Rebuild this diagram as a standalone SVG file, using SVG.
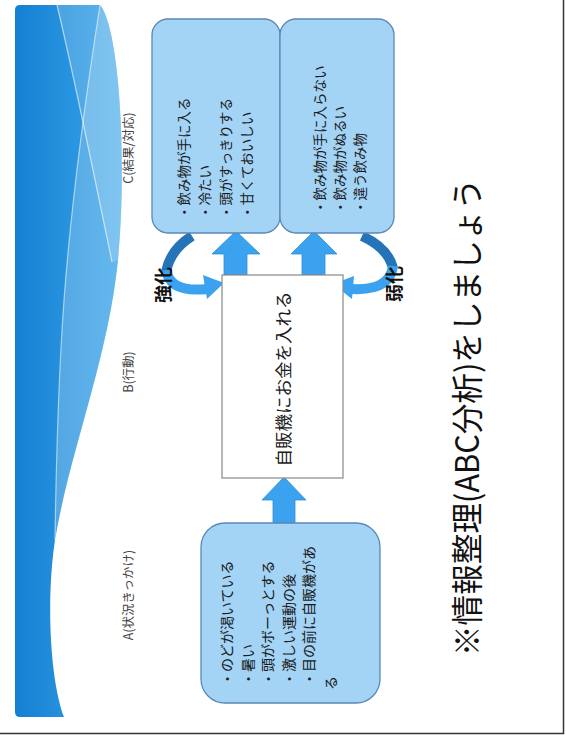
<svg xmlns="http://www.w3.org/2000/svg" width="566" height="737" viewBox="0 0 566 737">
<style>
.lbl{font-family:"Noto Sans CJK JP","Noto Sans",sans-serif;font-size:12.5px;fill:#444}
.bt{font-family:"Noto Sans CJK JP","Noto Sans",sans-serif;font-size:13.5px;fill:#1a1a1a}
.at{font-family:"Noto Sans CJK JP","Noto Sans",sans-serif;font-size:14px;fill:#1a1a1a}
.box{fill:#a3d3f5;stroke:#5b88b8;stroke-width:1.3}
.arr{fill:#3aa2ee;stroke:#2f8fd6;stroke-width:0.8}
.cur{fill:none;stroke-width:10}
.big{font-family:"Noto Sans CJK JP","Noto Sans",sans-serif;font-size:32px;fill:#111}
.bold{font-family:"Noto Sans CJK JP","Noto Sans",sans-serif;font-size:18px;font-weight:bold;fill:#111}
</style>
<defs>
<linearGradient id="bg" x1="0" y1="0" x2="1" y2="0">
<stop offset="0" stop-color="#157fd2"/>
<stop offset="1" stop-color="#3aa6ea"/>
</linearGradient>
</defs>
<rect width="566" height="737" fill="#ffffff"/>
<g id="band">
<path d="M20 5 L100 5 C118 25 128 150 118 260 C108 360 70 450 55 540 C46 600 50 680 64 717 L20 717 Q15 717 15 712 L15 10 Q15 5 20 5 Z" fill="url(#bg)"/>
<path d="M100 5 C82 120 68 230 62 330 C58 400 56 470 55 540 C70 450 108 360 118 260 C128 150 118 25 100 5 Z" fill="#ffffff" opacity="0.22"/>
<path d="M57 5 L100 5 C118 25 128 150 118 260 L112 262 C95 180 75 80 57 5 Z" fill="#ffffff" opacity="0.18"/>
<path d="M57 5 C75 80 95 180 112 262" fill="none" stroke="#ffffff" stroke-opacity="0.6" stroke-width="1.2"/>
<path d="M100 5 C82 120 68 230 62 330 C58 400 56 470 55 540" fill="none" stroke="#ffffff" stroke-opacity="0.55" stroke-width="1.2"/>
</g>
<g id="frame" stroke="#333" stroke-width="1.5">
<line x1="563.5" y1="0" x2="563.5" y2="734"/>
<line x1="0" y1="733.5" x2="564" y2="733.5"/>
</g>
<g id="labels">
<text class="lbl" text-anchor="middle" transform="translate(133,148) rotate(-90)">C(結果/対応)</text>
<text class="lbl" text-anchor="middle" transform="translate(133,372) rotate(-90)">B(行動)</text>
<text class="lbl" text-anchor="middle" transform="translate(133,595) rotate(-90)">A(状況きっかけ)</text>
</g>
<g id="connectors">
<polygon class="arr" points="273,523 273,500 262,500 284,477 306,500 295,500 295,523"/>
<polygon class="arr" points="224,281 224,254 212,254 236,231 260,254 247,254 247,281"/>
<polygon class="arr" points="302,281 302,254 291,254 314,231 337,254 325,254 325,281"/>
<path class="cur" stroke="#2674b8" d="M192 236 Q170 250 166 272"/>
<path class="cur" stroke="#3aa2ee" d="M166 270 Q170 293 207 289"/>
<polygon fill="#3aa2ee" points="224,283 203,275 207,299"/>
<path class="cur" stroke="#2674b8" d="M362 236 Q388 248 393 268"/>
<path class="cur" stroke="#3aa2ee" d="M393 266 Q390 291 352 289"/>
<polygon fill="#3aa2ee" points="333,284 354,276 352,299"/>
</g>
<g id="nodeC1">
<rect class="box" x="152" y="19" width="128" height="214" rx="16"/>
<text class="bt" transform="translate(189,219) rotate(-90)">・飲み物が手に入る</text>
<text class="bt" transform="translate(210,219) rotate(-90)">・冷たい</text>
<text class="bt" transform="translate(231,219) rotate(-90)">・頭がすっきりする</text>
<text class="bt" transform="translate(252,219) rotate(-90)">・甘くておいしい</text>
</g>
<g id="nodeC2">
<rect class="box" x="280" y="19" width="114" height="214" rx="16"/>
<text class="bt" transform="translate(325,214) rotate(-90)">・飲み物が手に入らない</text>
<text class="bt" transform="translate(345,214) rotate(-90)">・飲み物がぬるい</text>
<text class="bt" transform="translate(365,214) rotate(-90)">・違う飲み物</text>
</g>
<g id="nodeB">
<rect x="222" y="275" width="121" height="203" fill="#ffffff" stroke="#888" stroke-width="1.2"/>
<text class="bt" style="font-size:17px" text-anchor="middle" textLength="175" lengthAdjust="spacingAndGlyphs" transform="translate(289.5,379) rotate(-90)">自販機にお金を入れる</text>
</g>
<g id="nodeA">
<rect class="box" x="201" y="523" width="179" height="180" rx="24"/>
<text class="at" transform="translate(232,686) rotate(-90)">・のどが渇いている</text>
<text class="at" transform="translate(252.5,686) rotate(-90)">・暑い</text>
<text class="at" transform="translate(273,686) rotate(-90)">・頭がボーっとする</text>
<text class="at" transform="translate(293.5,686) rotate(-90)">・激しい運動の後</text>
<text class="at" transform="translate(314,686) rotate(-90)">・目の前に自販機があ</text>
<text class="at" transform="translate(336,690) rotate(-90)">る</text>
</g>
<g id="tags">
<text class="bold" text-anchor="middle" transform="translate(170,285) rotate(-90)">強化</text>
<text class="bold" text-anchor="middle" transform="translate(401,284) rotate(-90)">弱化</text>
</g>
<g id="title">
<text class="big" textLength="477" lengthAdjust="spacingAndGlyphs" transform="translate(479,656) rotate(-90)">※情報整理(ABC分析)をしましょう</text>
</g>
</svg>
